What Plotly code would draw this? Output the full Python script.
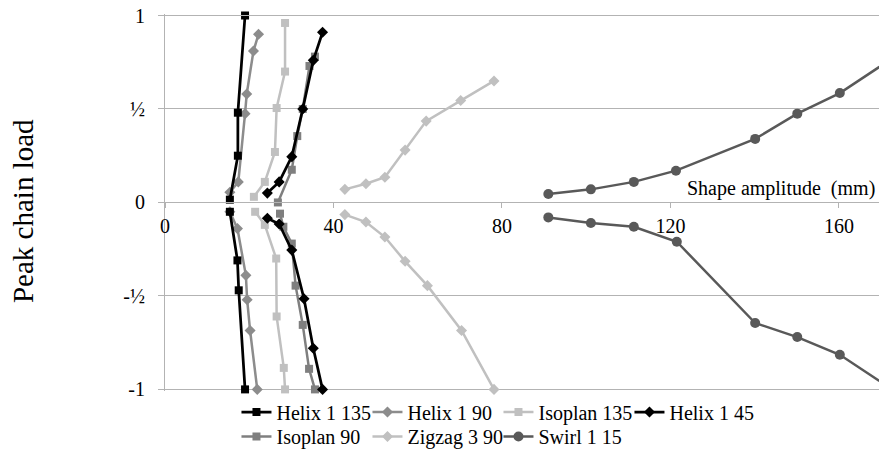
import plotly.graph_objects as go

# ---- data (amplitude in mm, normalised peak chain load); None separates tension / compression branches
helix_1_135_amp = [19.0, 17.3, 17.3, 15.4, None, 15.4, 17.2, 17.5, 19.0]
helix_1_135_load = [1.0, 0.48, 0.25, 0.015, None, -0.05, -0.31, -0.47, -1.0]

helix_1_90_amp = [22.2, 21.0, 19.4, 19.0, 17.4, 15.4, None, 15.4, 17.2, 19.2, 19.5, 20.2, 21.9]
helix_1_90_load = [0.90, 0.81, 0.58, 0.475, 0.11, 0.055, None, -0.05, -0.14, -0.39, -0.52, -0.685, -1.0]

isoplan_135_amp = [28.5, 28.5, 26.5, 26.1, 23.7, 21.1, None, 21.4, 23.7, 26.4, 26.5, 28.2, 28.5]
isoplan_135_load = [0.96, 0.70, 0.505, 0.27, 0.11, 0.03, None, -0.05, -0.12, -0.30, -0.61, -0.885, -1.0]

helix_1_45_amp = [37.4, 35.2, 32.7, 30.1, 27.1, 24.3, None, 24.3, 27.1, 30.1, 33.0, 35.2, 37.4]
helix_1_45_load = [0.91, 0.76, 0.50, 0.245, 0.11, 0.05, None, -0.085, -0.115, -0.255, -0.515, -0.78, -1.0]

isoplan_90_amp = [35.6, 34.3, 32.7, 31.4, 30.1, 26.8, None, 27.3, 28.1, 30.1, 31.0, 32.7, 34.2, 35.6]
isoplan_90_load = [0.78, 0.73, 0.50, 0.355, 0.175, 0.0, None, -0.06, -0.13, -0.22, -0.445, -0.655, -0.89, -1.0]

zigzag_3_90_amp = [42.7, 47.7, 52.2, 57.0, 62.0, 70.2, 78.1, None, 42.7, 47.7, 52.2, 57.0, 62.3, 70.4, 78.1]
zigzag_3_90_load = [0.07, 0.10, 0.135, 0.28, 0.435, 0.545, 0.65, None, -0.065, -0.105, -0.185, -0.315, -0.445, -0.685, -1.0]

swirl_1_15_amp = [91.0, 101.1, 111.3, 121.3, 140.1, 150.1, 160.2, 169.6, None,
                  91.0, 101.1, 111.3, 121.5, 140.1, 150.1, 160.2, 169.6]
swirl_1_15_load = [0.045, 0.07, 0.11, 0.17, 0.34, 0.475, 0.585, 0.725, None,
                   -0.08, -0.11, -0.13, -0.21, -0.645, -0.72, -0.815, -0.955]

x_tick_vals = [0, 40, 80, 120, 160]
y_tick_vals = [-1, -0.5, 0, 0.5, 1]
y_tick_text = ["-1", "-½", "0", "½", "1"]

FONT = "Liberation Serif, Times New Roman, serif"
GRID = "#b3b3b3"

series = [
    # name, x, y, color, symbol, size, width, legend, rank
    ("Helix 1 90", helix_1_90_amp, helix_1_90_load, "#8c8c8c", "diamond", 8.5, 2.5, "legend", 2),
    ("Isoplan 135", isoplan_135_amp, isoplan_135_load, "#c0c0c0", "square", 8, 2.5, "legend", 3),
    ("Isoplan 90", isoplan_90_amp, isoplan_90_load, "#7f7f7f", "square", 8, 2.5, "legend2", 5),
    ("Zigzag 3 90", zigzag_3_90_amp, zigzag_3_90_load, "#c0c0c0", "diamond", 8.5, 2.5, "legend2", 6),
    ("Swirl 1 15", swirl_1_15_amp, swirl_1_15_load, "#595959", "circle", 10, 2.5, "legend2", 7),
    ("Helix 1 135", helix_1_135_amp, helix_1_135_load, "#000000", "square", 8, 2.75, "legend", 1),
    ("Helix 1 45", helix_1_45_amp, helix_1_45_load, "#000000", "diamond", 8.5, 2.75, "legend", 4),
]

fig = go.Figure()
for name, xs, ys, col, sym, sz, lw, leg, rank in series:
    fig.add_trace(go.Scatter(
        x=xs, y=ys, name=name, mode="lines+markers",
        line=dict(color=col, width=lw),
        marker=dict(color=col, symbol=sym, size=sz, line=dict(width=0)),
        cliponaxis=False, legend=leg, legendrank=rank, connectgaps=False,
    ))

legend_common = dict(orientation="h", xanchor="left", entrywidth=86,
                     font=dict(family=FONT, size=20, color="black"),
                     bgcolor="rgba(0,0,0,0)", traceorder="normal")

fig.update_layout(
    width=879, height=456,
    margin=dict(l=165, r=0, t=14, b=0),
    paper_bgcolor="white", plot_bgcolor="white",
    font=dict(family=FONT, size=20, color="black"),
    showlegend=True,
    xaxis=dict(
        range=[0, 169.5], tickvals=x_tick_vals, anchor="free", position=0.5740,
        showline=True, linecolor=GRID, linewidth=1, automargin=False,
        ticks="outside", ticklen=5, tickcolor=GRID,
        showgrid=False, zeroline=False, ticklabelstandoff=1,
        ticklabeloverflow="allow",
        tickfont=dict(family=FONT, size=20, color="black"),
    ),
    yaxis=dict(
        range=[-1.008, 1.008], domain=[0.1473, 1], tickvals=y_tick_vals, ticktext=y_tick_text,
        showline=True, linecolor=GRID, linewidth=1, automargin=False,
        ticks="outside", ticklen=6, tickcolor=GRID,
        showgrid=True, gridcolor=GRID, gridwidth=1, zeroline=False,
        ticklabelstandoff=9, ticklabeloverflow="allow",
        tickfont=dict(family=FONT, size=20, color="black"),
    ),
    legend=dict(x=0.1001, y=0.0994, yanchor="middle", **legend_common),
    legend2=dict(x=0.1001, y=0.0, yanchor="bottom", **legend_common),
    shapes=[
        # top gridline at load = 1, drawn explicitly
        dict(type="line", xref="paper", x0=0, x1=1, yref="y", y0=y_tick_vals[-1], y1=y_tick_vals[-1],
             line=dict(color=GRID, width=1.2), layer="above"),
    ],
    annotations=[
        dict(text="Shape amplitude  (mm)", xref="paper", yref="y", x=0.7283, y=0,
             xanchor="left", yanchor="bottom", showarrow=False,
             font=dict(family=FONT, size=20, color="black")),
        dict(text="Peak chain load", xref="paper", yref="paper", x=-0.199, y=0.554,
             xanchor="center", yanchor="middle", textangle=-90, showarrow=False,
             font=dict(family=FONT, size=29, color="black")),
    ],
)

# remove the browser's default 8px body margin so the figure fills the window exactly
fig.write_html("out.html", config={"displayModeBar": False},
               post_script="document.body.style.margin='0';")
